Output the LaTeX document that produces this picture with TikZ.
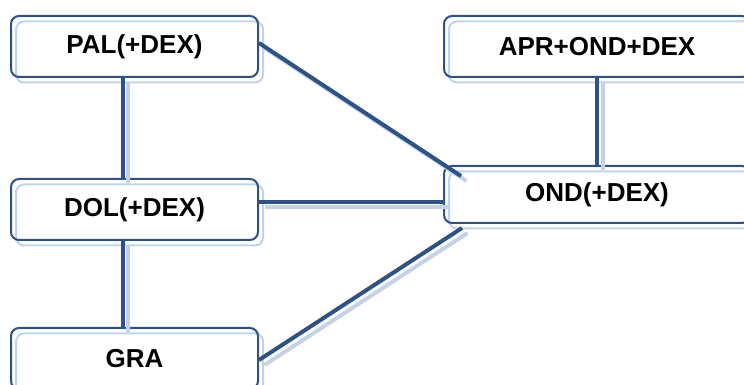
\documentclass[tikz,border=0pt]{standalone}
\usepackage{fontspec}
\setmainfont{Liberation Sans}
\usetikzlibrary{shadows}
\definecolor{darkblue}{RGB}{44,82,135}
\definecolor{paleblue}{RGB}{197,210,230}
\tikzset{
    drugbox/.style={draw=darkblue,line width=2pt,rounded corners=8pt,
        minimum width=247pt,minimum height=61pt,font=\bfseries\fontsize{26}{30}\selectfont,
        general shadow={draw=paleblue,line width=2pt,shadow xshift=5pt,shadow yshift=-5.5pt}},
    link/.style={draw=darkblue,line width=4pt,
        general shadow={draw=paleblue,line width=4pt,shadow xshift=5.5pt,shadow yshift=-5pt}}
}
\begin{document}
\begin{tikzpicture}[x=1pt,y=1pt]
        \useasboundingbox (0,0) rectangle (744,385);
        %% Regimens
        \node[drugbox] (pal) at (134.5,338.5) {PAL(+DEX)};
        \node[drugbox] (dol) at (134.5,175.5) {DOL(+DEX)};
        \node[drugbox] (gra) at (134.5,26.5) {GRA};
        \node[drugbox,minimum width=306pt] (apr) at (597,338.5) {APR+OND+DEX};
        \node[drugbox,minimum width=306pt,minimum height=57pt] (ond) at (597,190.5) {OND(+DEX)};
        %% Links
        \draw[link] ([xshift=-12pt]pal.south) -- ([xshift=-12pt]dol.north);
        \draw[link] ([xshift=-12pt]dol.south) -- ([xshift=-12pt]gra.north);
        \draw[link] (apr.south) -- (ond.north);
        \draw[link] ([yshift=3.5pt]pal.east) -- ([xshift=18pt,yshift=-11pt]ond.north west);
        \draw[link] ([yshift=7.5pt]dol.east) -- ([yshift=-7.5pt]ond.west);
        \draw[link] ([yshift=-1.5pt]gra.east) -- ([xshift=19pt,yshift=-4pt]ond.south west);
    \end{tikzpicture}
\end{document}
